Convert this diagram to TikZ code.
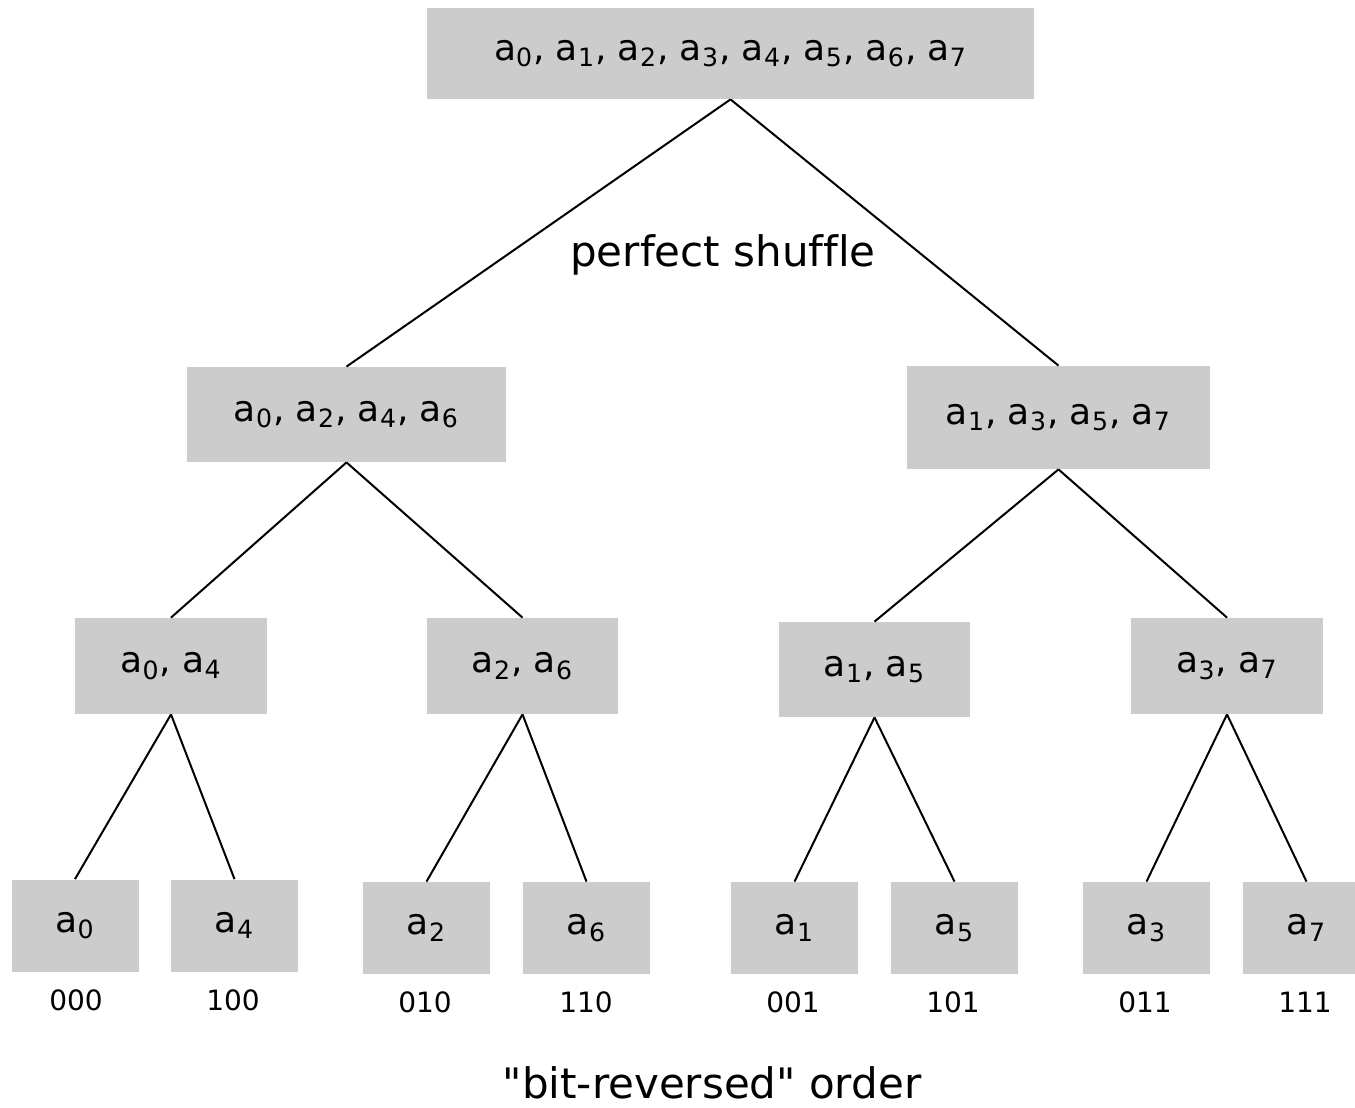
\documentclass[tikz,border=0pt]{standalone}
\usepackage{fontspec}
\setmainfont{DejaVu Sans}
\usetikzlibrary{positioning}

\newcommand{\ael}[1]{a\textsubscript{#1}}

\tikzset{
  cell/.style={fill=black!20, inner sep=0pt, font=\fontsize{18}{22}\selectfont},
  leaf/.style={cell, minimum width=63.5pt, minimum height=46pt},
  bits/.style={font=\fontsize{14}{17}\selectfont},
  caption/.style={font=\fontsize{21}{25}\selectfont},
}

\begin{document}
\begin{tikzpicture}[x=0.5pt,y=-0.5pt]
\clip (0,0) rectangle (1355,1108);

% top row
\node[cell, minimum width=303.5pt, minimum height=45.5pt] (root) at (730.5,53.5)
  {\ael0, \ael1, \ael2, \ael3, \ael4, \ael5, \ael6, \ael7};

% first split
\node[cell, minimum width=159.5pt, minimum height=47.5pt] (even) at (346.5,414.5)
  {\ael0, \ael2, \ael4, \ael6};
\node[cell, minimum width=151.5pt, minimum height=51.5pt] (odd) at (1058.5,417.5)
  {\ael1, \ael3, \ael5, \ael7};

% second split
\node[cell, minimum width=96pt, minimum height=48pt] (e04) at (171,666) {\ael0, \ael4};
\node[cell, minimum width=95.5pt, minimum height=48pt] (e26) at (522.5,666) {\ael2, \ael6};
\node[cell, minimum width=95.5pt, minimum height=47.5pt] (o15) at (874.5,669.5) {\ael1, \ael5};
\node[cell, minimum width=96pt, minimum height=48pt] (o37) at (1227,666) {\ael3, \ael7};

% leaves
\node[leaf] (a0) at (75,925.5) {\ael0};
\node[leaf] (a4) at (234.5,925.5) {\ael4};
\node[leaf] (a2) at (426.5,928) {\ael2};
\node[leaf] (a6) at (586.5,928) {\ael6};
\node[leaf] (a1) at (794.5,928) {\ael1};
\node[leaf] (a5) at (954.5,928) {\ael5};
\node[leaf] (a3) at (1146.5,928) {\ael3};
\node[leaf] (a7) at (1306.5,928) {\ael7};

% bit labels
\node[bits] (b000) at (76,1000) {000};
\node[bits] (b100) at (233,1000) {100};
\node[bits] (b010) at (425,1002) {010};
\node[bits] (b110) at (586,1002) {110};
\node[bits] (b001) at (793,1002) {001};
\node[bits] (b101) at (953,1002) {101};
\node[bits] (b011) at (1145,1002) {011};
\node[bits] (b111) at (1305,1002) {111};

\foreach \p/\c in {root/even, root/odd, even/e04, even/e26, odd/o15, odd/o37,
                   e04/a0, e04/a4, e26/a2, e26/a6, o15/a1, o15/a5, o37/a3, o37/a7}
  \draw[line width=1pt] (\p.south) -- (\c.north);

\node[caption] (shuffle) at (723,255) {perfect shuf\kern0pt f\kern0pt le};
\node[caption] (order) at (712,1083) {\textquotedbl bit-reversed\textquotedbl{} order};
\end{tikzpicture}
\end{document}
